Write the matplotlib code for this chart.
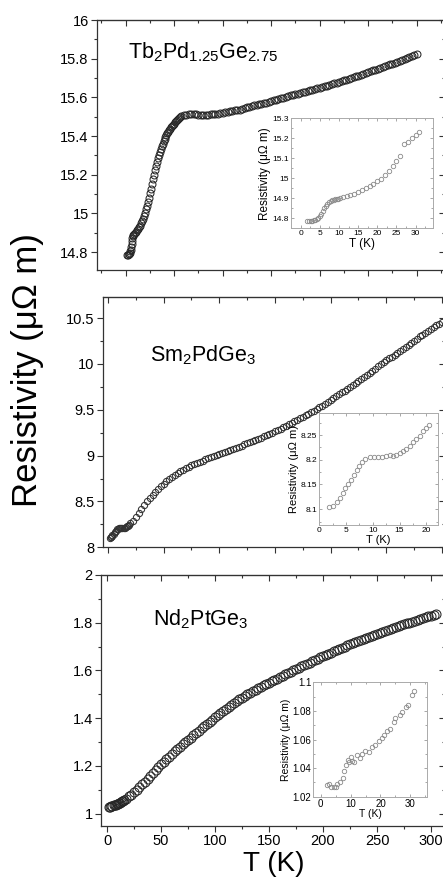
import matplotlib
matplotlib.use("Agg")
import matplotlib.pyplot as plt
from matplotlib.ticker import MultipleLocator, FuncFormatter

plt.rcParams['font.family'] = ['Liberation Sans', 'DejaVu Sans']
plt.rcParams['mathtext.fontset'] = 'custom'
plt.rcParams['mathtext.rm'] = 'Liberation Sans'
plt.rcParams['mathtext.it'] = 'Liberation Sans:italic'

# ---- Tb2Pd1.25Ge2.75 (main) ----
tb_T = [1.8, 2.5, 3, 3.5, 4, 4.5, 5, 5.5, 6, 6.5, 7, 7.5, 8, 9, 10, 11, 12, 13, 14, 15,
        16, 17, 18, 19, 20, 21, 22, 23, 24, 25, 26, 27, 28, 29, 30, 31, 32, 33, 34, 35,
        36, 37, 38, 39, 40, 41, 42, 43, 44, 45, 46, 47, 48, 49, 50, 51, 52, 53, 54, 55,
        56, 57.5, 60, 62.5, 65, 67.5, 70, 72.5, 75, 77.5, 80, 82.5, 85, 87.5, 90, 92.5,
        95, 97.5, 100, 102.5, 105, 107.5, 110, 112.5, 115, 117.5, 120, 122.5, 125, 127.5,
        130, 132.5, 135, 137.5, 140, 142.5, 145, 147.5, 150, 152.5, 155, 157.5, 160,
        162.5, 165, 167.5, 170, 172.5, 175, 177.5, 180, 182.5, 185, 187.5, 190, 192.5,
        195, 197.5, 200, 202.5, 205, 207.5, 210, 212.5, 215, 217.5, 220, 222.5, 225,
        227.5, 230, 232.5, 235, 237.5, 240, 242.5, 245, 247.5, 250, 252.5, 255, 257.5,
        260, 262.5, 265, 267.5, 270, 272.5, 275, 277.5, 280, 282.5, 285, 287.5, 290,
        292.5, 295, 297.5, 300]
tb_R = [14.786, 14.787, 14.788, 14.79, 14.797, 14.804, 14.812, 14.825, 14.84, 14.857,
        14.872, 14.883, 14.889, 14.895, 14.9, 14.906, 14.913, 14.92, 14.928, 14.937,
        14.948, 14.96, 14.973, 14.988, 15.003, 15.02, 15.038, 15.058, 15.08, 15.103,
        15.127, 15.152, 15.177, 15.2, 15.223, 15.245, 15.266, 15.285, 15.302, 15.318,
        15.333, 15.347, 15.36, 15.372, 15.384, 15.395, 15.405, 15.414, 15.422, 15.43,
        15.438, 15.445, 15.452, 15.458, 15.464, 15.47, 15.476, 15.482, 15.487, 15.492,
        15.496, 15.501, 15.508, 15.511, 15.514, 15.515, 15.514, 15.512, 15.511, 15.51,
        15.51, 15.51, 15.511, 15.512, 15.513, 15.514, 15.516, 15.518, 15.52, 15.522,
        15.525, 15.527, 15.53, 15.532, 15.535, 15.537, 15.54, 15.544, 15.548, 15.551,
        15.555, 15.558, 15.561, 15.564, 15.567, 15.57, 15.573, 15.576, 15.58, 15.584,
        15.588, 15.591, 15.595, 15.598, 15.602, 15.606, 15.61, 15.613, 15.616, 15.619,
        15.623, 15.626, 15.63, 15.633, 15.637, 15.64, 15.643, 15.646, 15.65, 15.654,
        15.658, 15.661, 15.665, 15.668, 15.672, 15.676, 15.68, 15.684, 15.688, 15.692,
        15.696, 15.7, 15.704, 15.708, 15.712, 15.716, 15.721, 15.725, 15.73, 15.734,
        15.739, 15.743, 15.748, 15.752, 15.757, 15.761, 15.766, 15.77, 15.775, 15.78,
        15.785, 15.79, 15.795, 15.799, 15.804, 15.808, 15.813, 15.818, 15.823]

# ---- Tb inset ----
tb_in_T = [1.8, 2.2, 2.6, 3.0, 3.4, 3.8, 4.2, 4.6, 5.0, 5.4, 5.8, 6.2, 6.6, 7.0, 7.4, 7.8,
           8.2, 8.6, 9.0, 9.4, 9.8, 10.2, 11, 12, 13, 14, 15, 16, 17, 18, 19, 20, 21, 22,
           23, 24, 25, 26, 27, 28, 29, 30, 31]
tb_in_R = [14.785, 14.786, 14.787, 14.788, 14.79, 14.793, 14.797, 14.803, 14.812, 14.822,
           14.835, 14.85, 14.863, 14.874, 14.882, 14.887, 14.89, 14.893, 14.895, 14.897,
           14.899, 14.9, 14.905, 14.91, 14.916, 14.922, 14.93, 14.94, 14.95, 14.96, 14.972,
           14.985, 14.999, 15.015, 15.035, 15.06, 15.085, 15.11, 15.17, 15.18, 15.2,
           15.215, 15.232]

# ---- Sm2PdGe3 (main) ----
sm_T = [2, 2.5, 3, 3.5, 4, 5, 6, 7, 8, 9, 10, 11, 12, 13, 14, 15, 16, 17, 18, 19, 20,
        22.5, 25, 27.5, 30, 32.5, 35, 37.5, 40, 42.5, 45, 47.5, 50, 52.5, 55, 57.5, 60,
        62.5, 65, 67.5, 70, 72.5, 75, 77.5, 80, 82.5, 85, 87.5, 90, 92.5, 95, 97.5, 100,
        102.5, 105, 107.5, 110, 112.5, 115, 117.5, 120, 122.5, 125, 127.5, 130, 132.5,
        135, 137.5, 140, 142.5, 145, 147.5, 150, 152.5, 155, 157.5, 160, 162.5, 165,
        167.5, 170, 172.5, 175, 177.5, 180, 182.5, 185, 187.5, 190, 192.5, 195, 197.5,
        200, 202.5, 205, 207.5, 210, 212.5, 215, 217.5, 220, 222.5, 225, 227.5, 230,
        232.5, 235, 237.5, 240, 242.5, 245, 247.5, 250, 252.5, 255, 257.5, 260, 262.5,
        265, 267.5, 270, 272.5, 275, 277.5, 280, 282.5, 285, 287.5, 290, 292.5, 295,
        297.5, 300]
sm_R = [8.10, 8.107, 8.114, 8.122, 8.132, 8.15, 8.165, 8.18, 8.195, 8.204, 8.206, 8.206,
        8.207, 8.21, 8.21, 8.213, 8.22, 8.227, 8.235, 8.247, 8.26,
        8.292, 8.332, 8.376, 8.42, 8.464, 8.505, 8.543, 8.575, 8.606, 8.636,
        8.666, 8.695, 8.72, 8.745, 8.768, 8.79, 8.809, 8.827, 8.845, 8.862,
        8.878, 8.893, 8.907, 8.92, 8.933, 8.945, 8.958, 8.97, 8.983, 8.995,
        9.008, 9.02, 9.031, 9.042, 9.054, 9.065, 9.077, 9.088, 9.099, 9.11,
        9.122, 9.135, 9.147, 9.16, 9.172, 9.184, 9.197, 9.21, 9.223, 9.237,
        9.251, 9.265, 9.28, 9.295, 9.31, 9.326, 9.342, 9.358, 9.374, 9.39,
        9.406, 9.422, 9.438, 9.455, 9.472, 9.49, 9.507,
        9.525, 9.545, 9.565, 9.588, 9.61, 9.63, 9.65, 9.67, 9.69, 9.71,
        9.73, 9.75, 9.77, 9.79, 9.81, 9.835, 9.86, 9.882, 9.905, 9.927,
        9.95, 9.972, 9.995, 10.017, 10.04,
        10.06, 10.08, 10.10, 10.12, 10.142, 10.165, 10.187, 10.21, 10.232, 10.255,
        10.277, 10.30, 10.32, 10.34, 10.36, 10.38, 10.40, 10.42, 10.44, 10.46]

# ---- Sm inset ----
sm_in_T = [1.9, 2.5, 3.3, 3.8, 4.4, 4.9, 5.4, 5.9, 6.4, 7.0, 7.5, 8.0, 8.6, 9.4, 10.2,
           11.0, 11.8, 12.5, 13.3, 13.8, 14.4, 15.0, 15.7, 16.3, 16.9, 17.5, 18.1, 18.8,
           19.4, 20.0, 20.6]
sm_in_R = [8.104, 8.107, 8.114, 8.122, 8.132, 8.142, 8.151, 8.159, 8.169, 8.179, 8.187,
           8.195, 8.202, 8.205, 8.206, 8.206, 8.206, 8.208, 8.21, 8.208, 8.21, 8.213,
           8.218, 8.222, 8.228, 8.235, 8.241, 8.248, 8.258, 8.264, 8.27]

# ---- Nd2PtGe3 (main) ----
nd_T = [2, 3, 4, 5, 6, 7, 8, 9, 10, 11, 12, 13, 14, 15, 16, 17.5, 20, 22.5, 25, 27.5, 30,
        32.5, 35, 37.5, 40, 42.5, 45, 47.5, 50, 52.5, 55, 57.5, 60, 62.5, 65, 67.5, 70,
        72.5, 75, 77.5, 80, 82.5, 85, 87.5, 90, 92.5, 95, 97.5, 100, 102.5, 105, 107.5,
        110, 112.5, 115, 117.5, 120, 122.5, 125, 127.5, 130, 132.5, 135, 137.5, 140,
        142.5, 145, 147.5, 150, 152.5, 155, 157.5, 160, 162.5, 165, 167.5, 170, 172.5,
        175, 177.5, 180, 182.5, 185, 187.5, 190, 192.5, 195, 197.5, 200, 202.5, 205,
        207.5, 210, 212.5, 215, 217.5, 220, 222.5, 225, 227.5, 230, 232.5, 235, 237.5,
        240, 242.5, 245, 247.5, 250, 252.5, 255, 257.5, 260, 262.5, 265, 267.5, 270,
        272.5, 275, 277.5, 280, 282.5, 285, 287.5, 290, 292.5, 295, 297.5, 300, 302.5, 305]
nd_R = [1.028, 1.029, 1.03, 1.032, 1.034, 1.036, 1.038, 1.04, 1.042, 1.044, 1.046, 1.049,
        1.051, 1.054, 1.057, 1.062, 1.072, 1.08, 1.09, 1.1, 1.111, 1.122, 1.134, 1.146,
        1.159, 1.171, 1.183, 1.195, 1.206, 1.217, 1.228, 1.239, 1.25, 1.261, 1.272,
        1.281, 1.29, 1.299, 1.308, 1.318, 1.328, 1.338, 1.347, 1.357, 1.366, 1.376,
        1.385, 1.394, 1.403, 1.413, 1.422, 1.431, 1.44, 1.448, 1.456, 1.464, 1.472,
        1.479, 1.486, 1.493, 1.5, 1.507, 1.513, 1.519, 1.525, 1.531, 1.537, 1.543, 1.548,
        1.554, 1.56, 1.566, 1.572, 1.578, 1.584, 1.59, 1.595, 1.6, 1.606, 1.612, 1.617,
        1.623, 1.628, 1.633, 1.638, 1.644, 1.649, 1.655, 1.66, 1.665, 1.67, 1.675, 1.68,
        1.685, 1.69, 1.695, 1.70, 1.705, 1.709, 1.714, 1.718, 1.723, 1.727, 1.731, 1.735,
        1.74, 1.744, 1.748, 1.752, 1.757, 1.761, 1.766, 1.77, 1.774, 1.778, 1.782, 1.786,
        1.79, 1.793, 1.797, 1.80, 1.804, 1.808, 1.812, 1.815, 1.819, 1.823, 1.827, 1.83,
        1.833, 1.836]

# ---- Nd inset ----
nd_in_T = [2.0, 2.8, 3.5, 4.5, 5.2, 5.6, 6.5, 7.4, 7.8, 8.5, 9.0, 9.6, 10.0, 10.4, 11.2,
           12.1, 13.0, 13.8, 14.9, 16.0, 17.1, 18.3, 19.4, 20.5, 21.3, 22.2, 23.3, 24.6,
           25.0, 26.4, 27.2, 28.7, 29.2, 30.6, 31.2]
nd_in_R = [1.0282, 1.0286, 1.027, 1.0266, 1.027, 1.0286, 1.0305, 1.033, 1.038, 1.042,
           1.046, 1.044, 1.048, 1.045, 1.044, 1.049, 1.047, 1.05, 1.052, 1.051, 1.055,
           1.056, 1.059, 1.061, 1.063, 1.066, 1.067, 1.072, 1.075, 1.077, 1.079, 1.083,
           1.084, 1.091, 1.094]

W, H = 443, 880
fig = plt.figure(figsize=(W / 100, H / 100), dpi=100)


def box(l, t, r, b):
    # pixel box -> figure fraction rect
    return [l / W, 1 - b / H, (r - l) / W, (b - t) / H]


fmt = FuncFormatter(lambda v, p: f"{v:g}")


def main_axes(rect, xlim, ylim, ymaj, xlabels):
    ax = fig.add_axes(rect)
    ax.set_xlim(*xlim)
    ax.set_ylim(*ylim)
    ax.xaxis.set_major_locator(MultipleLocator(50))
    ax.xaxis.set_minor_locator(MultipleLocator(25))
    ax.yaxis.set_major_locator(MultipleLocator(ymaj))
    ax.yaxis.set_minor_locator(MultipleLocator(ymaj / 2))
    ax.xaxis.set_major_formatter(fmt)
    ax.yaxis.set_major_formatter(fmt)
    ax.tick_params(which='both', direction='out', top=False, right=False,
                   labelsize=10.5, color='#333333', width=0.8, pad=2)
    ax.tick_params(which='major', length=4)
    ax.tick_params(which='minor', length=2.5)
    if not xlabels:
        ax.tick_params(labelbottom=False)
    for s in ax.spines.values():
        s.set_color('#333333')
        s.set_linewidth(0.9)
    sx = ax.secondary_xaxis('top')
    sx.xaxis.set_major_locator(MultipleLocator(50))
    sx.xaxis.set_minor_locator(MultipleLocator(25))
    sx.tick_params(which='both', direction='in', labeltop=False, color='#333333', width=0.8)
    sx.tick_params(which='major', length=4)
    sx.tick_params(which='minor', length=2.5)
    sy = ax.secondary_yaxis('right')
    sy.yaxis.set_major_locator(MultipleLocator(ymaj))
    sy.yaxis.set_minor_locator(MultipleLocator(ymaj / 2))
    sy.tick_params(which='both', direction='in', labelright=False, color='#333333', width=0.8)
    sy.tick_params(which='major', length=4)
    sy.tick_params(which='minor', length=2.5)
    return ax


def inset_axes(rect, xlim, ylim, xmaj, ymaj, tsize, lsize):
    ax = fig.add_axes(rect)
    ax.set_xlim(*xlim)
    ax.set_ylim(*ylim)
    ax.xaxis.set_major_locator(MultipleLocator(xmaj))
    ax.xaxis.set_minor_locator(MultipleLocator(xmaj / 2))
    ax.yaxis.set_major_locator(MultipleLocator(ymaj))
    ax.yaxis.set_minor_locator(MultipleLocator(ymaj / 2))
    ax.xaxis.set_major_formatter(fmt)
    ax.yaxis.set_major_formatter(fmt)
    ax.tick_params(which='both', direction='in', top=True, right=True,
                   labelsize=tsize, color='#999999', width=0.6, pad=1.5)
    ax.tick_params(which='major', length=2.5)
    ax.tick_params(which='minor', length=1.5)
    for s in ax.spines.values():
        s.set_color('#aaaaaa')
        s.set_linewidth(0.7)
    ax.set_xlabel('T (K)', fontsize=lsize, labelpad=0.5)
    ax.set_ylabel('Resistivity (μΩ m)', fontsize=lsize, labelpad=1)
    return ax


main_style = dict(linestyle='none', marker='o', mfc='none')
inset_style = dict(linestyle='none', marker='o', mfc='none', mec='#8a8a8a', ms=3.2, mew=0.6)

# top panel
ax1 = main_axes(box(97, 20, 444.5, 270), (-29.6, 328.7), (14.707, 16.0), 0.2, False)
ax1.plot(tb_T, tb_R, mec='#262626', ms=5, mew=0.75, **main_style)
in1 = inset_axes(box(291, 118.3, 433.3, 228.3), (-2.5, 34.6), (14.75, 15.3), 5, 0.1, 6, 8.5)
in1.xaxis.set_minor_locator(MultipleLocator(2.5))
in1.plot(tb_in_T, tb_in_R, **inset_style)
fig.text(128 / W, 1 - 58 / H, 'Tb$_2$Pd$_{1.25}$Ge$_{2.75}$', fontsize=15.5, va='baseline')

# middle panel
ax2 = main_axes(box(103, 297, 444.5, 547.3), (-4.5, 302.3), (8.0, 10.73), 0.5, False)
ax2.plot(sm_T, sm_R, mec='#333333', ms=4.5, mew=0.75, **main_style)
in2 = inset_axes(box(319.3, 413.3, 438, 525), (0, 22.2), (8.068, 8.294), 5, 0.05, 6, 8)
in2.plot(sm_in_T, sm_in_R, **inset_style)
fig.text(150 / W, 1 - 361.7 / H, 'Sm$_2$PdGe$_3$', fontsize=15.5, va='baseline')

# bottom panel
ax3 = main_axes(box(101, 575, 444.5, 826), (-5.6, 312.5), (0.948, 2.0), 0.2, True)
ax3.plot(nd_T, nd_R, mec='#262626', ms=6.5, mew=0.75, **main_style)
in3 = inset_axes(box(313.3, 682.3, 426.7, 796.7), (-2.5, 35.5), (1.02, 1.1), 10, 0.02, 7, 7.5)
in3.plot(nd_in_T, nd_in_R, **inset_style)
fig.text(153 / W, 1 - 625 / H, 'Nd$_2$PtGe$_3$', fontsize=15.5, va='baseline')

fig.text(27.5 / W, 1 - 370 / H, 'Resistivity (μΩ m)', rotation=90,
         ha='center', va='center', fontsize=25)
fig.text(274 / W, 1 - 864 / H, 'T (K)', ha='center', va='center', fontsize=20)

fig.savefig('out.png', dpi=100)
